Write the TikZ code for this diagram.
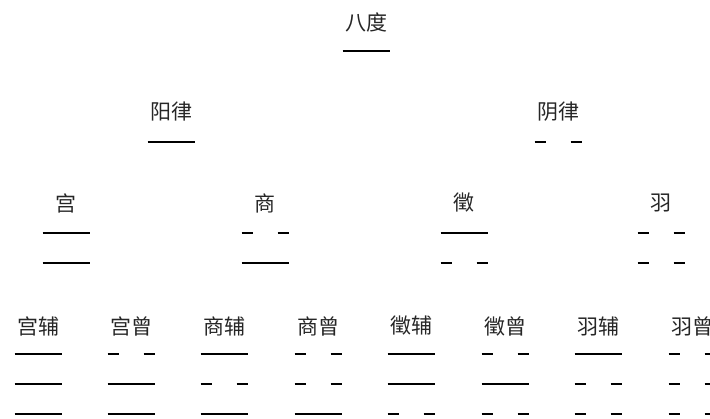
\documentclass[tikz,border=0pt]{standalone}
\usepackage{fontspec}
\newfontfamily\cjk{Noto Sans CJK SC}
\tikzset{
  lbl/.style={font=\cjk\fontsize{21}{21}\selectfont, inner sep=0pt, text=black!85},
  yaobar/.style={line width=2.2pt, black},
  pics/yang/.style={code={\draw[yaobar] (-23.5,0) -- (23.5,0);}},
  pics/yin/.style={code={\draw[yaobar] (-23.5,0) -- (-12.5,0); \draw[yaobar] (12.5,0) -- (23.5,0);}},
}
\begin{document}
\begin{tikzpicture}[x=1pt,y=-1pt]
\useasboundingbox (0,0) rectangle (710,419);
% level 1
\node[lbl] (badu) at (366,22) {八度};
\pic at (366,51) {yang};
% level 2
\node[lbl] (yanglv) at (171,112) {阳律};
\pic at (171,142) {yang};
\node[lbl] (yinlv) at (558,112) {阴律};
\pic at (558,142) {yin};
% level 3
\foreach \x/\t/\a/\b [count=\i] in {66/宫/yang/yang, 265/商/yin/yang, 464/徵/yang/yin, 661/羽/yin/yin}{
  \node[lbl] (m\i) at (\x,203) {\t};
  \pic at (\x,233) {\a};
  \pic at (\x,263) {\b};
}
% level 4
\foreach \x/\t/\a/\b/\c [count=\i] in {
  38/宫辅/yang/yang/yang, 131/宫曾/yin/yang/yang,
  224/商辅/yang/yin/yang, 318/商曾/yin/yin/yang,
  411/徵辅/yang/yang/yin, 505/徵曾/yin/yang/yin,
  598/羽辅/yang/yin/yin, 692/羽曾/yin/yin/yin}{
  \node[lbl] (n\i) at (\x,326) {\t};
  \pic at (\x,354) {\a};
  \pic at (\x,384) {\b};
  \pic at (\x,414) {\c};
}
\end{tikzpicture}
\end{document}
